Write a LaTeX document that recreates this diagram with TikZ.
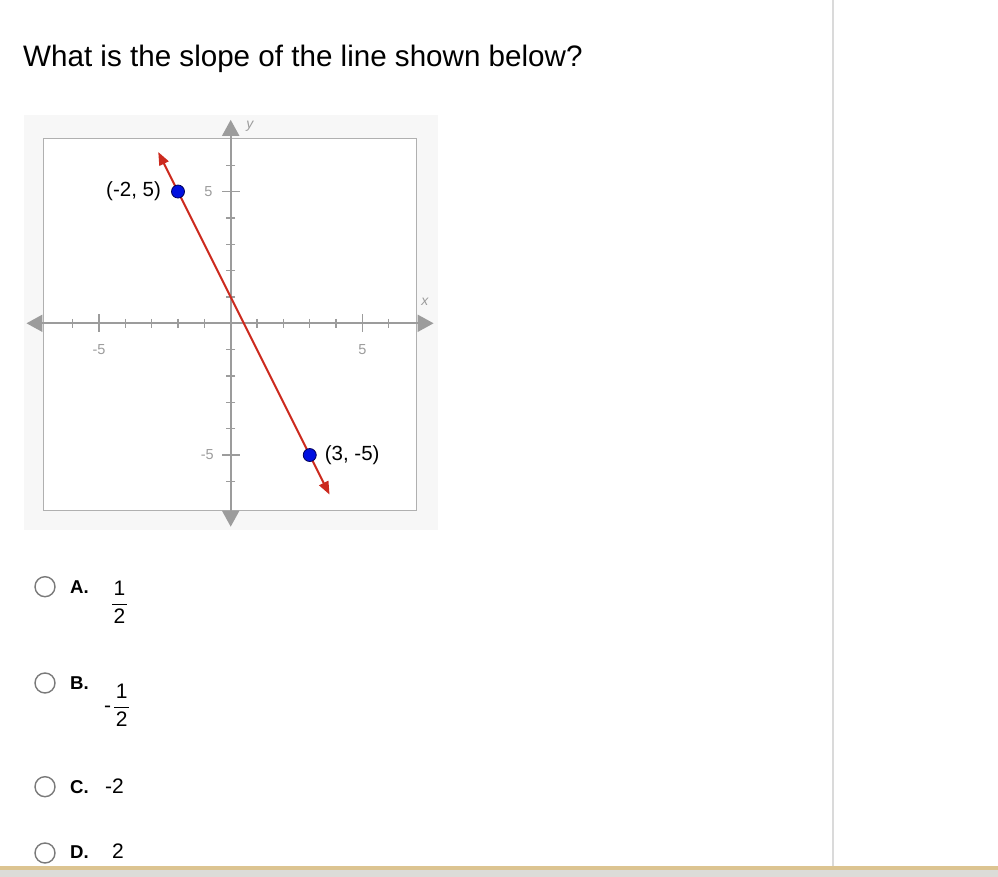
\documentclass[tikz,border=0pt]{standalone}
\usepackage{fontspec}
\setmainfont{Liberation Sans}
\usepackage{amsmath}
\usetikzlibrary{arrows.meta,positioning}
\definecolor{axisgray}{HTML}{9C9C9C}
\definecolor{boxgray}{HTML}{B0B0B0}
\definecolor{linered}{HTML}{CC2A1E}
\definecolor{dotblue}{HTML}{0010E0}
\definecolor{radiogray}{HTML}{7A7A7A}
\definecolor{sepgray}{HTML}{DADADA}
\definecolor{tanline}{HTML}{DCC491}
\definecolor{footgray}{HTML}{DCDCD8}
\definecolor{panelgray}{HTML}{F7F7F7}

\begin{document}
\begin{tikzpicture}[x=1pt,y=1pt,
        point/.style={circle,draw=blue!35!black,fill=dotblue,line width=0.8pt,minimum size=13pt,inner sep=0pt},
        coordlabel/.style={inner sep=1pt,font=\fontsize{20.5}{24}\selectfont},
        ticklabel/.style={text=axisgray,inner sep=1pt,font=\fontsize{14.5}{17}\selectfont},
        radio/.style={circle,draw=radiogray,line width=1.4pt,minimum size=20pt,inner sep=0pt},
        letter/.style={anchor=base west,inner sep=0pt,font=\fontsize{18.6}{22}\selectfont\bfseries},
        answer/.style={inner sep=0pt,font=\fontsize{21}{25}\selectfont}]

    \useasboundingbox (0,0) rectangle (998,877);
    \fill[footgray] (0,0) rectangle (998,7);
    \fill[tanline] (0,7) rectangle (998,11);
    \draw[sepgray,line width=2pt] (833,11) -- (833,877);

    \node[anchor=base west,inner sep=0pt,font=\fontsize{29.6}{34}\selectfont] (title) at (23,810)
        {What is the slope of the line shown below?};

    \begin{scope}[shift={(230.7,553.7)},x=26.35pt,y=26.35pt]
        \fill[panelgray] (-7.85,-7.85) rectangle (7.85,7.9);
        \draw[boxgray,line width=1.6pt,fill=white] (-7.1,-7.1) rectangle (7.05,7.02);

        \coordinate (xl) at (-7.75,0);
        \coordinate (xr) at (7.7,0);
        \coordinate (yb) at (0,-7.72);
        \coordinate (yt) at (0,7.72);
        \draw[axisgray,line width=2pt,{Triangle[length=16pt,width=17pt]}-{Triangle[length=16pt,width=17pt]}] (xl) -- (xr);
        \draw[axisgray,line width=2pt,{Triangle[length=16pt,width=17pt]}-{Triangle[length=16pt,width=17pt]}] (yb) -- (yt);

        \foreach \t in {-6,-4,-3,-2,-1,1,2,3,4,6} {
            \draw[axisgray,line width=1.3pt] (\t,0) ++(0pt,4.5pt) -- ++(0pt,-9pt);
            \draw[axisgray,line width=1.3pt] (0,\t) ++(4.5pt,0pt) -- ++(-9pt,0pt);
        }
        \foreach \t in {-5,5} {
            \draw[axisgray,line width=1.3pt] (\t,0) ++(0pt,9pt) -- ++(0pt,-18pt);
            \draw[axisgray,line width=1.3pt] (0,\t) ++(9pt,0pt) -- ++(-18pt,0pt);
        }

        \node[ticklabel] (xm5) at (-5,-1) {-5};
        \node[ticklabel] (xp5) at (5,-1) {5};
        \node[ticklabel,anchor=east] (yp5) at (-0.65,5) {5};
        \node[ticklabel,anchor=east] (ym5) at (-0.6,-5) {-5};
        \node[ticklabel,font=\fontsize{14}{16}\selectfont\itshape] (xname) at (7.37,0.82) {x};
        \node[ticklabel,font=\fontsize{14}{16}\selectfont\itshape] (yname) at (0.73,7.46) {y};

        \coordinate (lt) at (-2.75,6.5);
        \coordinate (lb) at (3.75,-6.5);
        \draw[linered,line width=2pt,{Triangle[length=13pt,width=10pt]}-{Triangle[length=13pt,width=10pt]}] (lt) -- (lb);

        \node[point] (p1) at (-2,5) {};
        \node[point] (p2) at (3,-5) {};
        \node[coordlabel,left=9pt of p1] (l1) {(-2, 5)};
        \node[coordlabel,right=7pt of p2] (l2) {(3, -5)};
    \end{scope}

    \node[radio] (ra) at (45,290.3) {};
    \node[radio] (rb) at (45,194) {};
    \node[radio] (rc) at (45,90.3) {};
    \node[radio] (rd) at (45,24) {};

    \node[letter] (la) at (70,283.6) {A.};
    \node[letter] (lb) at (70,187.3) {B.};
    \node[letter] (lc) at (70,83.6) {C.};
    \node[letter] (ld) at (70,18.7) {D.};

    \node[answer] (aa) at (119.5,274.5) {$\dfrac{\mbox{\hspace{1.5pt}1\hspace{1.5pt}}}{\mbox{\hspace{1.5pt}2\hspace{1.5pt}}}$};
    \node[answer,anchor=west] (ab) at (104,172) {-\hspace{2pt}$\dfrac{\mbox{\hspace{1.5pt}1\hspace{1.5pt}}}{\mbox{\hspace{1.5pt}2\hspace{1.5pt}}}$};
    \node[answer,anchor=base west] (ac) at (105,83.6) {-2};
    \node[answer,anchor=base west] (ad) at (112,18.7) {2};
\end{tikzpicture}
\end{document}
